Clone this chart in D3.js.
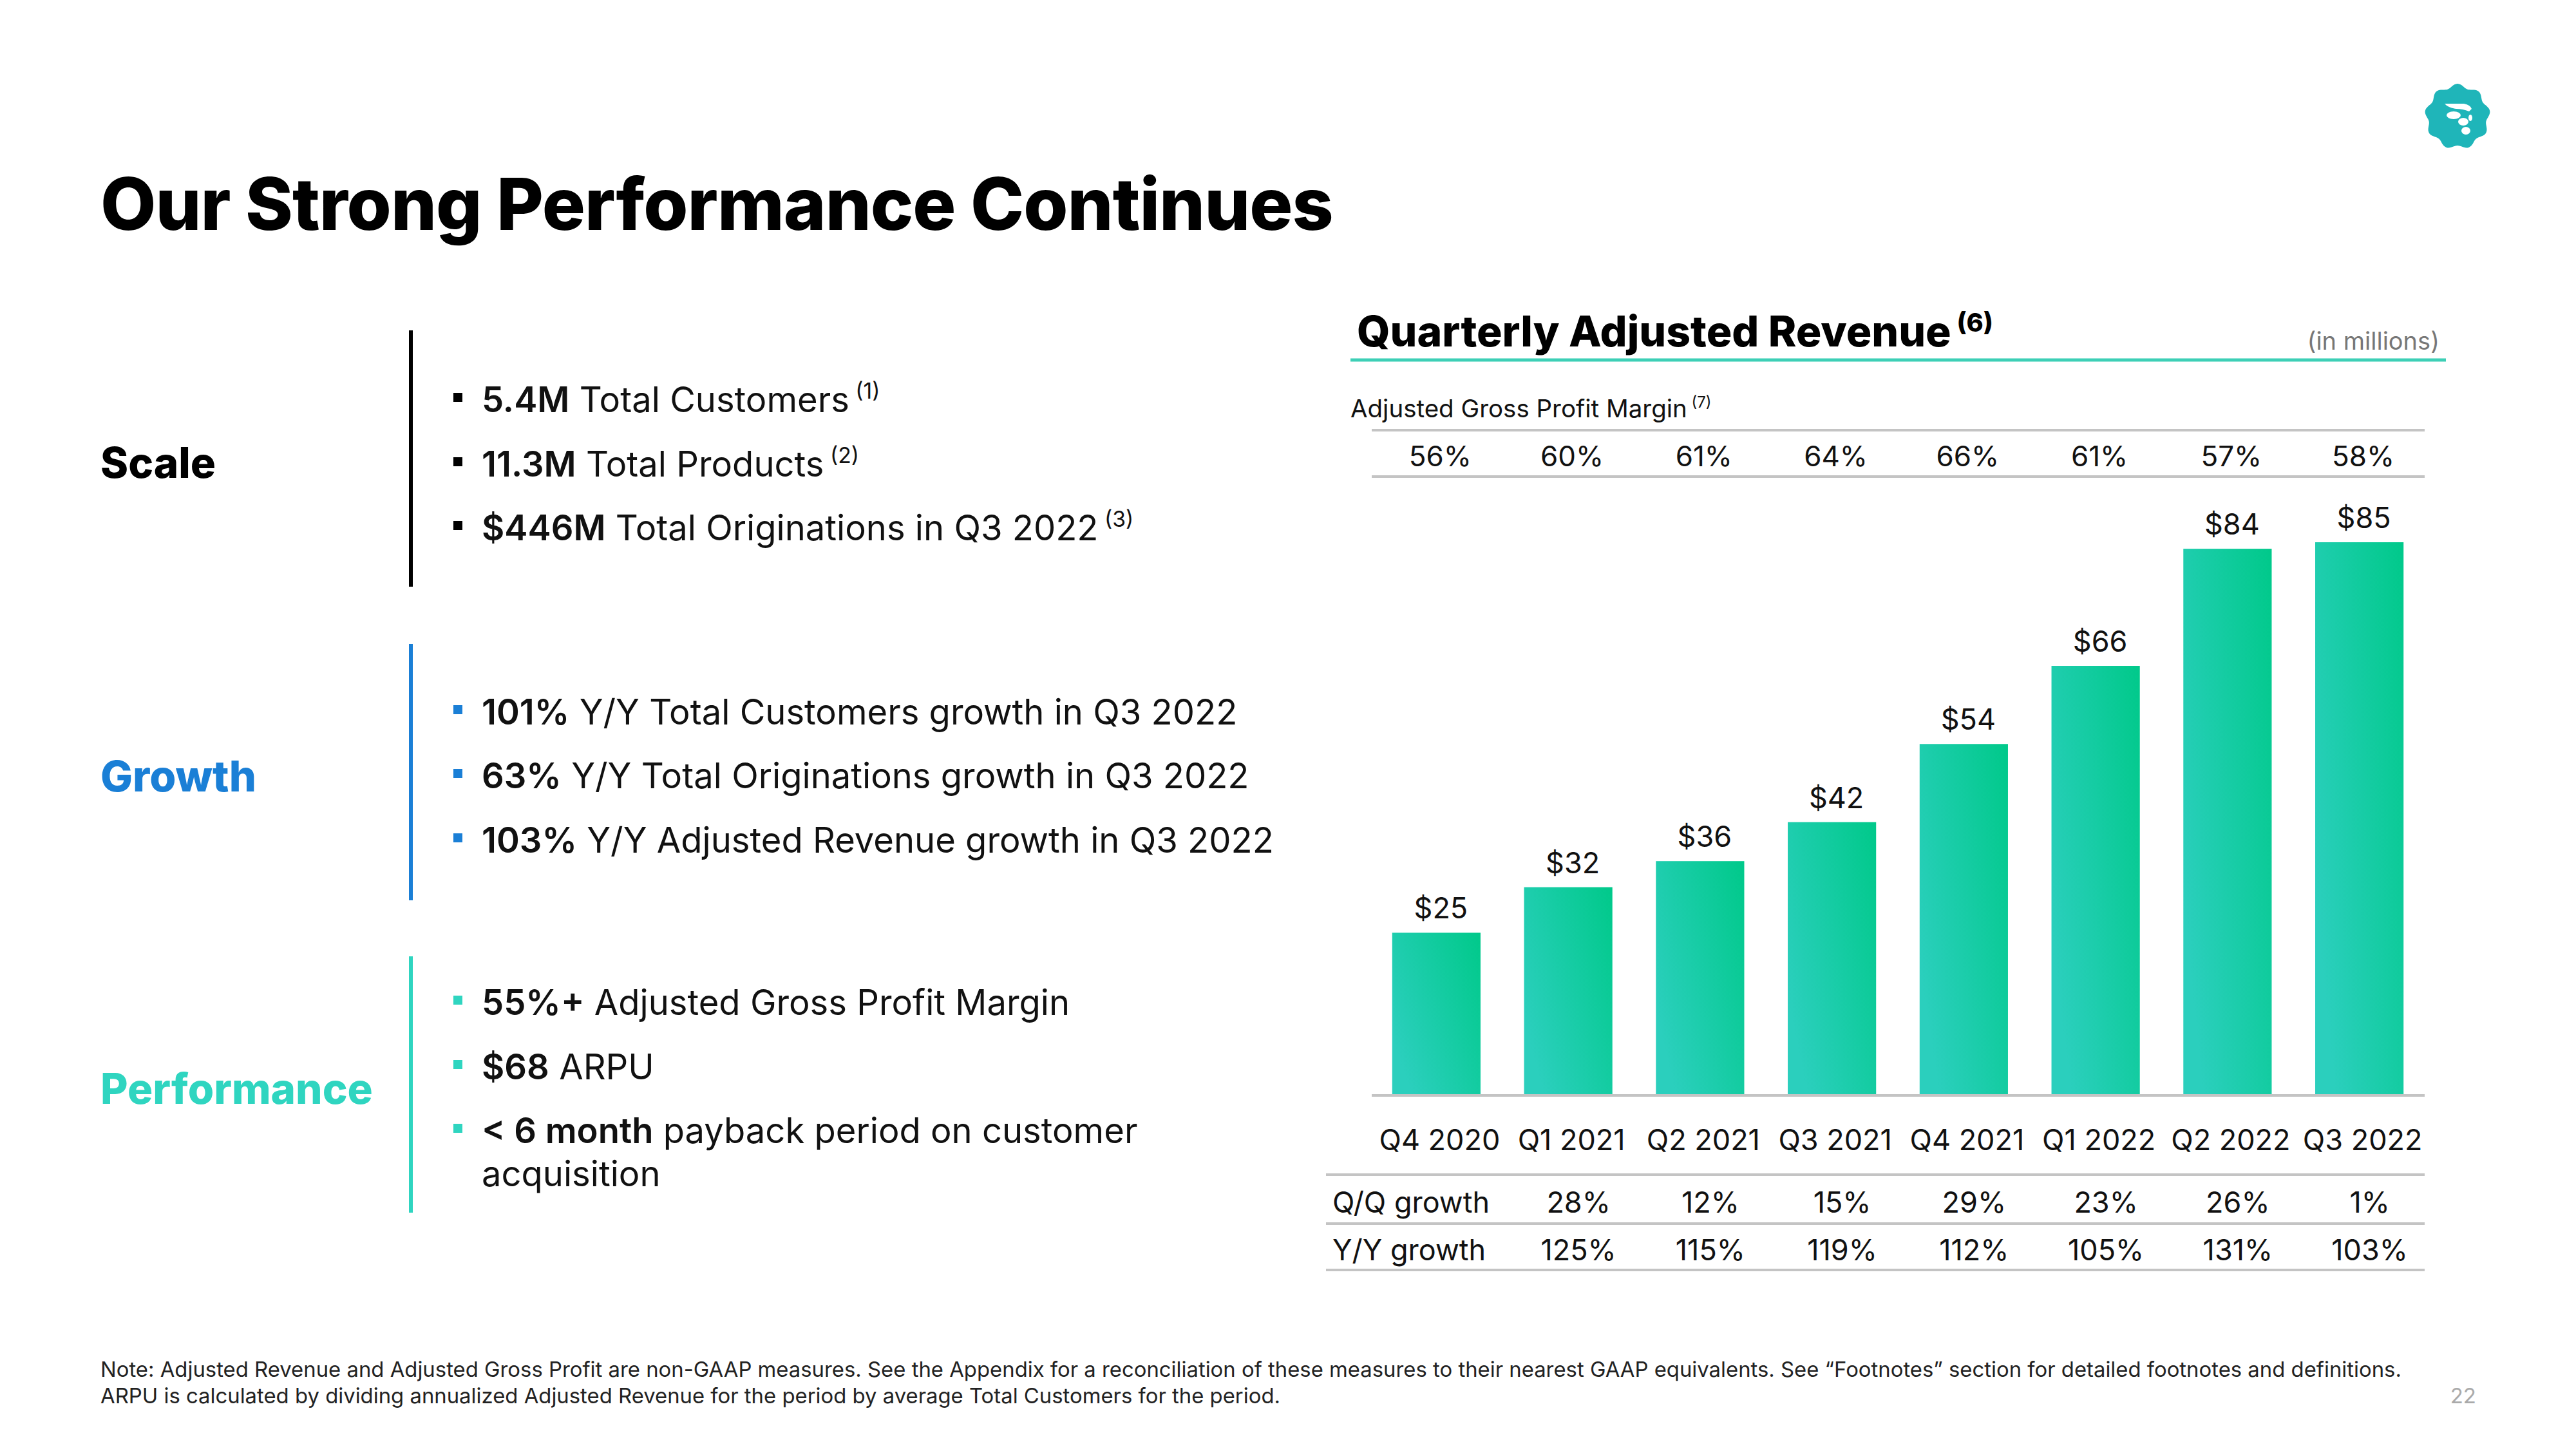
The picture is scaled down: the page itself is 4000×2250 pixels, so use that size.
<!DOCTYPE html>
<html><head><meta charset="utf-8">
<script src="https://cdn.jsdelivr.net/npm/d3@7"></script>
<style>html,body{margin:0;padding:0;background:#fff;}svg{display:block;font-family:Inter,"Noto Sans",sans-serif;}</style>
</head><body>
<script>
const quarters = ["Q4 2020","Q1 2021","Q2 2021","Q3 2021","Q4 2021","Q1 2022","Q2 2022","Q3 2022"];
const revenue = [25,32,36,42,54,66,84,85];
const grossMargin = [56,60,61,64,66,61,57,58];
const qoqGrowth = [null,28,12,15,29,23,26,1];
const yoyGrowth = [null,125,115,119,112,105,131,103];
const sections = ["Scale","Growth","Performance"];
const sectionColors = ["#000000","#1a7fd6","#2fd5c0"];
const bullets = [
  [[["5.4M",1],[" Total Customers",0],[" (1)",2]],[["11.3M",1],[" Total Products",0],[" (2)",2]],[["$446M",1],[" Total Originations in Q3 2022",0],[" (3)",2]]],
  [[["101%",1],[" Y/Y Total Customers growth in Q3 2022",0]],[["63%",1],[" Y/Y Total Originations growth in Q3 2022",0]],[["103%",1],[" Y/Y Adjusted Revenue growth in Q3 2022",0]]],
  [[["55%+",1],[" Adjusted Gross Profit Margin",0]],[["$68",1],[" ARPU",0]],[["< 6 month",1],[" payback period on customer",0]]]
];
const wrapLine = "acquisition";
const footnotes = ["Note: Adjusted Revenue and Adjusted Gross Profit are non-GAAP measures. See the Appendix for a reconciliation of these measures to their nearest GAAP equivalents. See \u201cFootnotes\u201d section for detailed footnotes and definitions.",
"ARPU is calculated by dividing annualized Adjusted Revenue for the period by average Total Customers for the period."];

const W=4000,H=2250;
const svg=d3.select("body").append("svg").attr("width",W).attr("height",H);
svg.append("rect").attr("width",W).attr("height",H).attr("fill","#fff");

function fit(sel,w){const l=sel.node().getComputedTextLength();const fs=parseFloat(sel.attr("font-size"));sel.attr("font-size",fs*w/l);return fs*w/l;}

// title
const title=svg.append("text").attr("x",156).attr("y",357).attr("font-size",120).attr("font-weight",800).attr("fill","#000").attr("letter-spacing",-1).text("Our Strong Performance Continues");
fit(title,1916);

// logo
const lg=svg.append("g").attr("transform","translate(3816,181)");
const lobes=d3.range(0,361,4).map(a=>[a*Math.PI/180,48+3*Math.cos(a*Math.PI/180*9)]);
lg.append("path").attr("d",d3.lineRadial().curve(d3.curveCardinalClosed)(lobes)).attr("fill","#1fb5b9");
lg.append("path").attr("d","M-20,-20 L10,-20 Q20,-18 22,-12 L18,-8 Q8,-12 -2,-12 Q-15,-14 -20,-20Z").attr("fill","#fff");
lg.append("ellipse").attr("cx",-6).attr("cy",-2).attr("rx",11).attr("ry",6).attr("fill","#fff");
lg.append("ellipse").attr("cx",9).attr("cy",8).attr("rx",8).attr("ry",6).attr("fill","#fff");
lg.append("ellipse").attr("cx",20).attr("cy",2).attr("rx",3).attr("ry",5).attr("fill","#fff");
lg.append("ellipse").attr("cx",13).attr("cy",22).attr("rx",7).attr("ry",6).attr("fill","#fff");

// left sections
const secBase=[742,1229,1714];
const secW=[179,242,423];
const lineY=[[513,911],[1000,1398],[1485,1883]];
const bulletBase=[[640,740,839],[1125,1224,1324],[1576,1676,1775]];
let bulletFs=null;
sections.forEach((s,i)=>{
  const t=svg.append("text").attr("x",156).attr("y",secBase[i]).attr("font-size",74).attr("font-weight",800).attr("fill",sectionColors[i]).text(s);
  fit(t,secW[i]);
  svg.append("line").attr("x1",638).attr("x2",638).attr("y1",lineY[i][0]).attr("y2",lineY[i][1]).attr("stroke",sectionColors[i]).attr("stroke-width",6);
});
const probe=svg.append("text").attr("font-size",58).attr("x",0).attr("y",-100);
bullets[1][2].forEach(p=>probe.append("tspan").attr("font-weight",p[1]==1?600:400).text(p[0]));
bulletFs=fit(probe,1230);probe.remove();
bullets.forEach((grp,i)=>{
  grp.forEach((ln,j)=>{
    const y=bulletBase[i][j];
    svg.append("rect").attr("x",704).attr("y",y-30).attr("width",14).attr("height",14).attr("fill",sectionColors[i]);
    const t=svg.append("text").attr("x",748).attr("y",y).attr("font-size",bulletFs).attr("fill","#111");
    ln.forEach(p=>{
      if(p[1]==2){t.append("tspan").attr("font-size",bulletFs*0.62).attr("dy",-bulletFs*0.38).text(p[0]);}
      else t.append("tspan").attr("font-weight",p[1]==1?600:400).text(p[0]);
    });
  });
});
svg.append("text").attr("x",748).attr("y",1842).attr("font-size",bulletFs).attr("fill","#111").text(wrapLine);

// chart
const ct=svg.append("text").attr("x",2107).attr("y",538).attr("font-size",66).attr("font-weight",800).attr("fill","#000");
const ctm=ct.append("tspan").text("Quarterly Adjusted Revenue");
const ctw=ctm.node().getComputedTextLength();
const cfs=66*923/ctw; ct.attr("font-size",cfs);
ct.append("tspan").attr("font-size",cfs*0.6).attr("dy",-cfs*0.35).text(" (6)");
svg.append("text").attr("x",3788).attr("y",543).attr("text-anchor","end").attr("font-size",38).attr("fill","#777").text("(in millions)");
svg.append("line").attr("x1",2097).attr("x2",3798).attr("y1",559).attr("y2",559).attr("stroke","#3dcfb6").attr("stroke-width",5);

const gm=svg.append("text").attr("x",2097).attr("y",648).attr("font-size",40).attr("fill","#111");
gm.append("tspan").text("Adjusted Gross Profit Margin");
const gmw=gm.node().getComputedTextLength(); const gfs=40*523/gmw; gm.attr("font-size",gfs);
gm.append("tspan").attr("font-size",gfs*0.62).attr("dy",-gfs*0.38).text(" (7)");

const x=d3.scaleBand().domain(quarters).range([2128,3766]).paddingInner(0.33).paddingOuter(0.165);
const y=d3.scaleLinear().domain([0,85]).range([1701,842]);
const cx=q=>x(q)+x.bandwidth()/2;

[668,740].forEach(v=>svg.append("line").attr("x1",2130).attr("x2",3765).attr("y1",v).attr("y2",v).attr("stroke","#c4c4c4").attr("stroke-width",4));
svg.append("g").selectAll("text").data(grossMargin).join("text")
  .attr("x",(d,i)=>cx(quarters[i])+6).attr("y",724).attr("text-anchor","middle")
  .attr("font-size",44).attr("fill","#111").text(d=>d+"%");

const defs=svg.append("defs");
const gr=defs.append("linearGradient").attr("id","barGrad").attr("x1",1).attr("y1",0).attr("x2",0).attr("y2",0.65);
gr.append("stop").attr("offset",0).attr("stop-color","#00c98a");
gr.append("stop").attr("offset",1).attr("stop-color","#2bcfbd");

svg.append("g").selectAll("rect").data(revenue).join("rect")
  .attr("x",(d,i)=>x(quarters[i])).attr("width",x.bandwidth())
  .attr("y",d=>y(d)).attr("height",d=>y(0)-y(d)).attr("fill","url(#barGrad)");
svg.append("g").selectAll("text").data(revenue).join("text")
  .attr("x",(d,i)=>cx(quarters[i])+7).attr("y",d=>y(d)-22).attr("text-anchor","middle")
  .attr("font-size",45).attr("fill","#111").text(d=>"$"+d);

const xAxis=svg.append("g").attr("transform","translate(0,1701)").call(d3.axisBottom(x).tickSize(0).tickPadding(85));
xAxis.select(".domain").attr("d","M2130,0H3765").attr("stroke","#c4c4c4").attr("stroke-width",4);
xAxis.selectAll("text").attr("font-size",45).attr("fill","#111").attr("font-family","Inter,'Noto Sans',sans-serif").attr("dy",0).attr("dx",5);

[1824,1900,1972].forEach(v=>svg.append("line").attr("x1",2059).attr("x2",3765).attr("y1",v).attr("y2",v).attr("stroke","#c4c4c4").attr("stroke-width",4));
const rows=[["Q/Q growth",qoqGrowth,1883],["Y/Y growth",yoyGrowth,1957]];
rows.forEach(r=>{
  svg.append("text").attr("x",2069).attr("y",r[2]).attr("font-size",45).attr("fill","#111").text(r[0]);
  svg.append("g").selectAll("text").data(r[1].map((d,i)=>({d,i})).filter(o=>o.d!==null)).join("text")
    .attr("x",o=>cx(quarters[o.i])+16).attr("y",r[2]).attr("text-anchor","middle")
    .attr("font-size",45).attr("fill","#111").text(o=>o.d+"%");
});

// footnotes
const f1=svg.append("text").attr("x",156).attr("y",2138).attr("font-size",33).attr("fill","#222").text(footnotes[0]);
const ffs=fit(f1,3574);
svg.append("text").attr("x",156).attr("y",2179).attr("font-size",ffs).attr("fill","#222").text(footnotes[1]);
svg.append("text").attr("x",3845).attr("y",2179).attr("text-anchor","end").attr("font-size",33).attr("fill","#aaa").text("22");
</script>
</body></html>
